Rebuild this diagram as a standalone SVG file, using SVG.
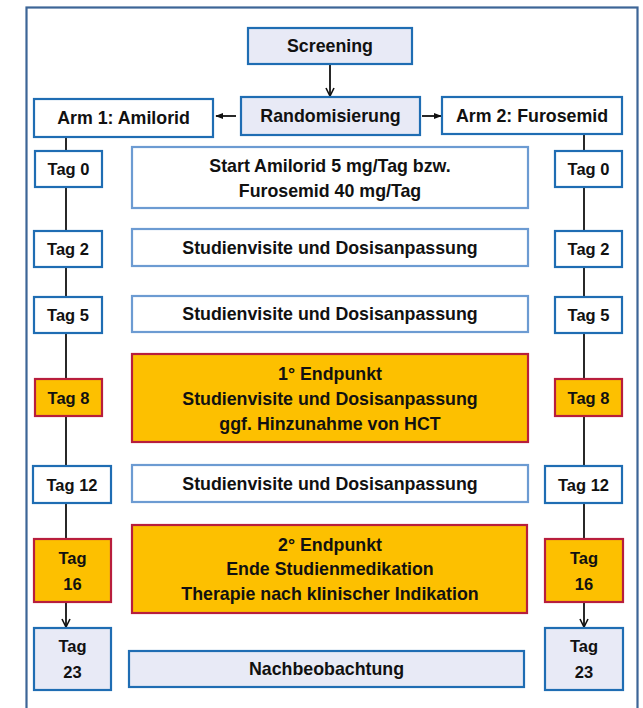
<svg xmlns="http://www.w3.org/2000/svg" width="643" height="708" viewBox="0 0 643 708">
<defs>
<style>
text{font-family:"Liberation Sans",Arial,sans-serif;font-weight:bold;font-size:17.8px;fill:#111;text-anchor:middle;dominant-baseline:central}
text.t{font-size:16.5px}
.frame{fill:#fff;stroke:#3D6597;stroke-width:2.2}
.blue{fill:#fff;stroke:#1F6DB3;stroke-width:2.2}
.lav{fill:#E8EAF6;stroke:#1F6DB3;stroke-width:2.2}
.light{fill:#fff;stroke:#6C9BD2;stroke-width:2.2}
.orange{fill:#FDC000;stroke:#B81E3C;stroke-width:2.2}
.ln{stroke:#111;stroke-width:1.8;fill:none}
</style>
<marker id="v" viewBox="0 0 10 10" refX="9" refY="5" markerWidth="10" markerHeight="10" markerUnits="userSpaceOnUse" orient="auto">
<path d="M1,1 L9,5 L1,9" fill="none" stroke="#111" stroke-width="1.6"/>
</marker>
<marker id="f" viewBox="0 0 10 10" refX="9" refY="5" markerWidth="8" markerHeight="8" markerUnits="userSpaceOnUse" orient="auto">
<path d="M0,1 L10,5 L0,9 Z" fill="#111"/>
</marker>
</defs>
<rect class="frame" x="26.5" y="7.5" width="611" height="710"/>
<g id="connectors">
<line class="ln" x1="66" y1="137" x2="66" y2="539"/>
<line class="ln" x1="584" y1="134" x2="584" y2="539"/>
<line class="ln" x1="66" y1="602" x2="66" y2="627" marker-end="url(#v)"/>
<line class="ln" x1="584" y1="602" x2="584" y2="627" marker-end="url(#v)"/>
<line class="ln" x1="330" y1="64" x2="330" y2="96" marker-end="url(#v)"/>
<line class="ln" x1="236" y1="116" x2="216" y2="116" marker-end="url(#f)"/>
<line class="ln" x1="422" y1="116" x2="441" y2="116" marker-end="url(#f)"/>
</g>
<g id="screening"><rect class="lav" x="248" y="28" width="164" height="36"/><text x="330" y="46">Screening</text></g>
<g id="randomisierung"><rect class="lav" x="241" y="97" width="179" height="38"/><text x="330.5" y="116">Randomisierung</text></g>
<g id="arm1"><rect class="blue" x="34" y="99" width="179" height="38"/><text x="123.5" y="118">Arm 1: Amilorid</text></g>
<g id="arm2"><rect class="blue" x="442" y="97" width="180" height="37"/><text x="532" y="115.5">Arm 2: Furosemid</text></g>

<g id="l-tag0"><rect class="blue" x="35" y="151" width="67" height="36"/><text class="t" x="68.5" y="169">Tag 0</text></g>
<g id="r-tag0"><rect class="blue" x="555" y="151" width="67" height="36"/><text class="t" x="588.5" y="169">Tag 0</text></g>
<g id="start"><rect class="light" x="132" y="147" width="396" height="61"/><text x="330" y="166">Start Amilorid 5 mg/Tag bzw.</text><text x="330" y="191">Furosemid 40 mg/Tag</text></g>

<g id="l-tag2"><rect class="blue" x="34" y="231" width="68" height="36"/><text class="t" x="68" y="249">Tag 2</text></g>
<g id="r-tag2"><rect class="blue" x="555" y="231" width="67" height="36"/><text class="t" x="588.5" y="249">Tag 2</text></g>
<g id="visit2"><rect class="light" x="132" y="229" width="396" height="37"/><text x="330" y="247.5">Studienvisite und Dosisanpassung</text></g>

<g id="l-tag5"><rect class="blue" x="34" y="297" width="68" height="36"/><text class="t" x="68" y="315">Tag 5</text></g>
<g id="r-tag5"><rect class="blue" x="555" y="297" width="67" height="36"/><text class="t" x="588.5" y="315">Tag 5</text></g>
<g id="visit5"><rect class="light" x="132" y="296" width="396" height="36"/><text x="330" y="314">Studienvisite und Dosisanpassung</text></g>

<g id="l-tag8"><rect class="orange" x="35" y="379" width="67" height="37"/><text class="t" x="68.5" y="397.5">Tag 8</text></g>
<g id="r-tag8"><rect class="orange" x="555" y="379" width="67" height="37"/><text class="t" x="588.5" y="397.5">Tag 8</text></g>
<g id="endpoint1"><rect class="orange" x="132" y="354" width="396" height="88"/><text x="330" y="374">1° Endpunkt</text><text x="330" y="399">Studienvisite und Dosisanpassung</text><text x="330" y="424">ggf. Hinzunahme von HCT</text></g>

<g id="l-tag12"><rect class="blue" x="33" y="466" width="78" height="37"/><text class="t" x="72" y="484.5">Tag 12</text></g>
<g id="r-tag12"><rect class="blue" x="545" y="466" width="77" height="37"/><text class="t" x="583.5" y="484.5">Tag 12</text></g>
<g id="visit12"><rect class="light" x="132" y="465" width="396" height="37"/><text x="330" y="483.5">Studienvisite und Dosisanpassung</text></g>

<g id="l-tag16"><rect class="orange" x="34" y="539" width="77" height="63"/><text class="t" x="72.5" y="558">Tag</text><text class="t" x="72.5" y="584">16</text></g>
<g id="r-tag16"><rect class="orange" x="545" y="539" width="78" height="63"/><text class="t" x="584" y="558">Tag</text><text class="t" x="584" y="584">16</text></g>
<g id="endpoint2"><rect class="orange" x="132" y="525" width="395" height="88"/><text x="330" y="545">2° Endpunkt</text><text x="330" y="569">Ende Studienmedikation</text><text x="330" y="594">Therapie nach klinischer Indikation</text></g>

<g id="l-tag23"><rect class="lav" x="34" y="628" width="77" height="62"/><text class="t" x="72.5" y="646">Tag</text><text class="t" x="72.5" y="672">23</text></g>
<g id="r-tag23"><rect class="lav" x="545" y="628" width="78" height="62"/><text class="t" x="584" y="646">Tag</text><text class="t" x="584" y="672">23</text></g>
<g id="follow"><rect class="lav" x="129" y="651" width="395" height="36"/><text x="326.5" y="669">Nachbeobachtung</text></g>
</svg>
